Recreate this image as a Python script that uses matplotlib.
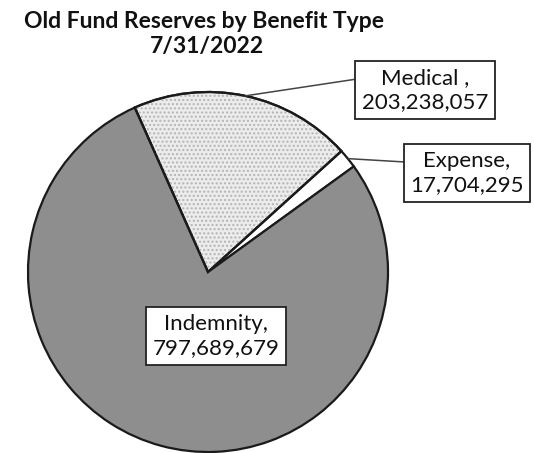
import numpy as np
import matplotlib.pyplot as plt
import matplotlib.patches as mpatches

plt.rcParams["font.family"] = ["Lato", "DejaVu Sans"]

# reserves by benefit type, clockwise from the medical slice
categories = ["Medical", "Expense", "Indemnity"]
reserves = [203238057, 17704295, 797689679]
label_text = ["Medical ,\n203,238,057", "Expense,\n17,704,295", "Indemnity,\n797,689,679"]

W, H = 534, 453
fig = plt.figure(figsize=(W / 100, H / 100), dpi=100)
ax = fig.add_axes([0, 0, 1, 1])

CX, CY, R = 208, 181, 180
START = 114
face = {"Medical": "#ececec", "Expense": "#ffffff", "Indemnity": "#8e8e8e"}

wedges, _ = ax.pie(reserves, center=(CX, CY), radius=R, startangle=START,
                   counterclock=False, colors=[face[c] for c in categories],
                   wedgeprops=dict(edgecolor="#1a1a1a", linewidth=1.6),
                   frame=True)
ax.set_xlim(0, W)
ax.set_ylim(0, H)
ax.set_aspect("equal")
ax.axis("off")

# dotted texture on the medical slice
med = wedges[0]
ax.add_patch(mpatches.Wedge((CX, CY), R, med.theta1, med.theta2,
                            facecolor="none", edgecolor="#b4b4b4",
                            hatch="....", linewidth=0, zorder=1.5))
ax.add_patch(mpatches.Wedge((CX, CY), R, med.theta1, med.theta2,
                            facecolor="none", edgecolor="#1a1a1a",
                            linewidth=1.6, zorder=1.6))

box = dict(boxstyle="square,pad=0.3", facecolor="white",
           edgecolor="#222222", linewidth=1.3)
# label centres and where the leader line meets each box
label_pos = {"Medical": (425, 363), "Expense": (467, 280), "Indemnity": (216, 117)}
leader_end = {"Medical": (357, 374), "Expense": (405, 291)}

for w, cat, txt in zip(wedges, categories, label_text):
    ax.text(*label_pos[cat], txt, ha="center", va="center", fontsize=16,
            color="#111111", bbox=box, linespacing=1.25, zorder=5)
    if cat in leader_end:
        mid = np.deg2rad((w.theta1 + w.theta2) / 2)
        tip = (CX + R * np.cos(mid), CY + R * np.sin(mid))
        ex, ey = leader_end[cat]
        ax.plot([tip[0], ex], [tip[1], ey], color="#444444", lw=1.1,
                solid_capstyle="butt", zorder=4)

ax.text(204, 425, "Old Fund Reserves by Benefit Type", ha="center",
        va="baseline", fontsize=16.5, fontweight="bold", color="#111111")
ax.text(207, 400, "7/31/2022", ha="center", va="baseline", fontsize=16.5,
        fontweight="bold", color="#111111")

fig.savefig("out.png", dpi=100)
